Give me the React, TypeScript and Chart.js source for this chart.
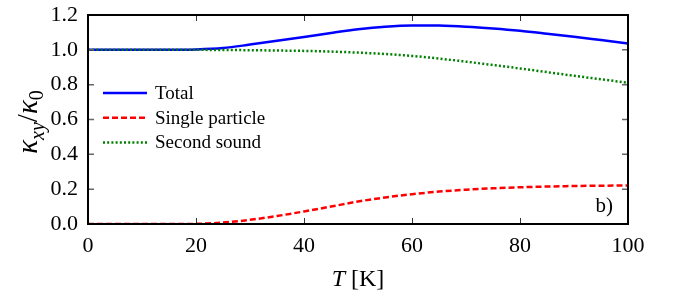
import React, { useEffect, useRef } from "react";
import { Chart, registerables } from "chart.js";

Chart.register(...registerables);

// Temperature grid (K)
const temperature = [0, 5, 10, 15, 20, 25, 30, 35, 40, 45, 50, 55, 60, 65, 70, 75, 80, 85, 90, 95, 100];

// Normalised thermal Hall conductivity contributions
const total = [1, 1, 1, 1, 1.002, 1.01, 1.03, 1.052, 1.074, 1.097, 1.118, 1.133, 1.14, 1.139, 1.133, 1.123, 1.11, 1.093, 1.075, 1.056, 1.037];
const singleParticle = [0, 0, 0, 0, 0.001, 0.008, 0.024, 0.046, 0.072, 0.1, 0.129, 0.152, 0.171, 0.186, 0.197, 0.205, 0.211, 0.215, 0.218, 0.22, 0.221];
const secondSound = [1, 1, 1, 1, 1, 0.999, 0.998, 0.996, 0.994, 0.99, 0.984, 0.976, 0.965, 0.95, 0.932, 0.913, 0.893, 0.872, 0.851, 0.831, 0.811];

const xTicks = [0, 20, 40, 60, 80, 100];
const yTicks = [0, 0.2, 0.4, 0.6, 0.8, 1.0, 1.2];

const legendItems = [
  { label: "Total", color: "#0000ff", dash: [] as number[] },
  { label: "Single particle", color: "#ff0000", dash: [6, 3] },
  { label: "Second sound", color: "#008000", dash: [2, 2.2] },
];

const SERIF = "'Liberation Serif', 'Times New Roman', serif";

const toPoints = (ys: number[]) => temperature.map((t, i) => ({ x: t, y: ys[i] }));

const noScalePadding = (s: any) => {
  s.paddingTop = 0;
  s.paddingBottom = 0;
  s.paddingLeft = 0;
  s.paddingRight = 0;
};

// Frame, inward ticks, legend, panel tag and axis titles
const decorations = {
  id: "decorations",
  afterDatasetsDraw(chart: any) {
    const ctx: CanvasRenderingContext2D = chart.ctx;
    const { left, right, top, bottom } = chart.chartArea;
    const xs = chart.scales.x;
    const ys = chart.scales.y;
    ctx.save();

    // inward ticks on all four sides
    ctx.strokeStyle = "#333";
    ctx.lineWidth = 1;
    xTicks.forEach((v) => {
      const px = Math.round(xs.getPixelForValue(v)) + 0.5;
      ctx.beginPath();
      ctx.moveTo(px, bottom);
      ctx.lineTo(px, bottom - 6);
      ctx.moveTo(px, top);
      ctx.lineTo(px, top + 6);
      ctx.stroke();
    });
    ctx.strokeStyle = "#666";
    ctx.lineWidth = 1.5;
    yTicks.forEach((v) => {
      const py = ys.getPixelForValue(v);
      ctx.beginPath();
      ctx.moveTo(left, py);
      ctx.lineTo(left + 6, py);
      ctx.moveTo(right, py);
      ctx.lineTo(right - 6, py);
      ctx.stroke();
    });

    // frame
    ctx.strokeStyle = "#000";
    ctx.lineWidth = 2;
    ctx.strokeRect(left, top, right - left, bottom - top);

    // legend
    ctx.font = `19px ${SERIF}`;
    ctx.textBaseline = "middle";
    ctx.textAlign = "left";
    legendItems.forEach((item, i) => {
      const y = 93 + i * 24.7;
      ctx.beginPath();
      ctx.setLineDash(item.dash);
      ctx.strokeStyle = item.color;
      ctx.lineWidth = 2.5;
      ctx.moveTo(left + 15, y);
      ctx.lineTo(left + 59, y);
      ctx.stroke();
      ctx.setLineDash([]);
      ctx.fillStyle = "#000";
      ctx.fillText(item.label, left + 67, y + 1);
    });

    // panel tag
    ctx.font = `21px ${SERIF}`;
    ctx.textAlign = "right";
    ctx.fillText("b)", right - 15, bottom - 18);

    // x-axis title: T [K]
    const xParts = [
      { text: "T", font: `italic 24px ${SERIF}` },
      { text: " [K]", font: `24px ${SERIF}` },
    ];
    let w = 0;
    xParts.forEach((p) => {
      ctx.font = p.font;
      w += ctx.measureText(p.text).width;
    });
    let cx = (left + right) / 2 - w / 2;
    ctx.textAlign = "left";
    ctx.textBaseline = "alphabetic";
    xParts.forEach((p) => {
      ctx.font = p.font;
      ctx.fillText(p.text, cx, 286);
      cx += ctx.measureText(p.text).width;
    });

    // y-axis title: κ_xy / κ_0
    const yParts = [
      { text: "κ", font: `italic 29px ${SERIF}`, dy: 0 },
      { text: "xy", font: `italic 20px ${SERIF}`, dy: 7 },
      { text: "/", font: `29px ${SERIF}`, dy: 0 },
      { text: "κ", font: `italic 29px ${SERIF}`, dy: 0 },
      { text: "0", font: `20px ${SERIF}`, dy: 6 },
    ];
    w = 0;
    yParts.forEach((p) => {
      ctx.font = p.font;
      w += ctx.measureText(p.text).width;
    });
    ctx.translate(37, 122);
    ctx.rotate(-Math.PI / 2);
    let tx = -w / 2;
    yParts.forEach((p) => {
      ctx.font = p.font;
      ctx.fillText(p.text, tx, p.dy);
      tx += ctx.measureText(p.text).width;
    });

    ctx.restore();
  },
};

export default function App() {
  const canvasRef = useRef<HTMLCanvasElement | null>(null);

  useEffect(() => {
    if (!canvasRef.current) return;
    const chart = new Chart(canvasRef.current, {
      type: "line",
      data: {
        datasets: [
          {
            label: "Total",
            data: toPoints(total),
            borderColor: "#0000ff",
            borderWidth: 2.5,
            pointRadius: 0,
            cubicInterpolationMode: "monotone",
            order: 3,
          },
          {
            label: "Single particle",
            data: toPoints(singleParticle),
            borderColor: "#ff0000",
            borderWidth: 2.5,
            borderDash: [6, 3],
            pointRadius: 0,
            cubicInterpolationMode: "monotone",
            order: 2,
          },
          {
            label: "Second sound",
            data: toPoints(secondSound),
            borderColor: "#008000",
            borderWidth: 2.5,
            borderDash: [2, 2.2],
            pointRadius: 0,
            cubicInterpolationMode: "monotone",
            order: 1,
          },
        ],
      },
      options: {
        animation: false,
        responsive: true,
        maintainAspectRatio: false,
        layout: { padding: { left: 0, top: 15, right: 47, bottom: 0 } },
        plugins: { legend: { display: false }, tooltip: { enabled: false } },
        scales: {
          x: {
            type: "linear",
            min: 0,
            max: 100,
            border: { display: false },
            grid: { display: false, drawTicks: false },
            afterBuildTicks: (s: any) => {
              s.ticks = xTicks.map((v) => ({ value: v }));
            },
            afterFit: (s: any) => {
              s.height = 76;
              noScalePadding(s);
            },
            ticks: {
              color: "#000",
              padding: 9,
              maxRotation: 0,
              font: { family: SERIF, size: 22 },
              callback: (v: any) => String(v),
            },
          },
          y: {
            type: "linear",
            min: 0,
            max: 1.2,
            border: { display: false },
            grid: { display: false, drawTicks: false },
            afterBuildTicks: (s: any) => {
              s.ticks = yTicks.map((v) => ({ value: v }));
            },
            afterFit: (s: any) => {
              s.width = 88;
              noScalePadding(s);
            },
            ticks: {
              color: "#000",
              padding: 10,
              font: { family: SERIF, size: 22 },
              callback: (v: any) => Number(v).toFixed(1),
            },
          },
        },
      },
      plugins: [decorations],
    });
    return () => chart.destroy();
  }, []);

  return (
    <div style={{ position: "absolute", left: 0, top: 0, width: 675, height: 300, background: "#fff" }}>
      <canvas ref={canvasRef} />
    </div>
  );
}
